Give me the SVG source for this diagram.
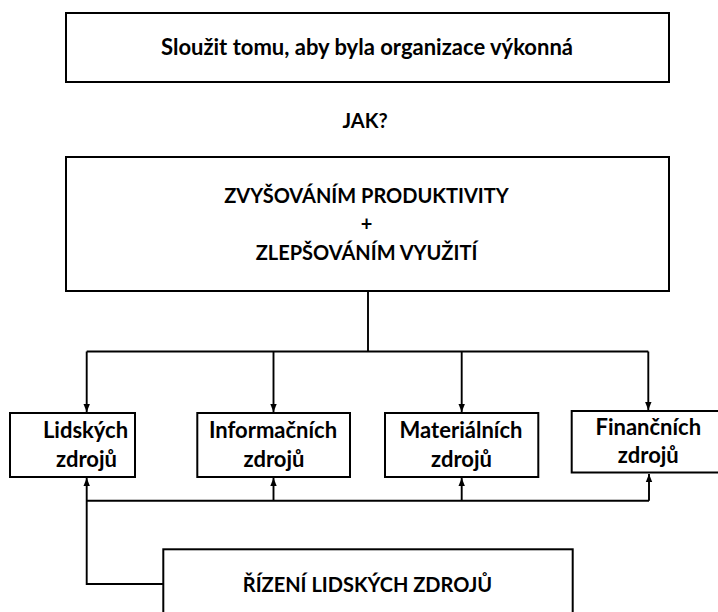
<svg xmlns="http://www.w3.org/2000/svg" width="718" height="612" viewBox="0 0 718 612">
<style>
.box{fill:#fff;stroke:#000;stroke-width:2}
.t{font-family:Lato,"Open Sans","Liberation Sans",sans-serif;font-weight:700;font-size:20px;fill:#000;text-anchor:middle}
.l{font-size:22px}
.c{fill:none;stroke:#000;stroke-width:1.9}
</style>
<defs>
<marker id="ah" viewBox="0 0 8 8" refX="8" refY="4" markerWidth="8" markerHeight="8" markerUnits="userSpaceOnUse" orient="auto">
<path d="M0,0.8 L8,4 L0,7.2 Z" fill="#000"/>
</marker>
</defs>
<rect width="718" height="612" fill="#fff"/>
<g id="top">
<rect class="box" x="66" y="13" width="603" height="69"/>
<text class="t l" x="367" y="55">Sloužit tomu, aby byla organizace výkonná</text>
</g>
<g id="jak">
<text class="t" x="365" y="128">JAK?</text>
</g>
<g id="main">
<rect class="box" x="66" y="157" width="603" height="134"/>
<text class="t" x="366.5" y="203">ZVYŠOVÁNÍM PRODUKTIVITY</text>
<text class="t" x="366.5" y="231">+</text>
<text class="t" x="366.5" y="260">ZLEPŠOVÁNÍM VYUŽITÍ</text>
</g>
<g id="connectors">
<path class="c" d="M368 291 V351.5"/>
<path class="c" d="M86.7 351.5 H648.3"/>
<path class="c" d="M86.7 351.5 V412" marker-end="url(#ah)"/>
<path class="c" d="M273.5 351.5 V412" marker-end="url(#ah)"/>
<path class="c" d="M461.7 351.5 V412" marker-end="url(#ah)"/>
<path class="c" d="M648.3 351.5 V410" marker-end="url(#ah)"/>
<path class="c" d="M163.3 584 H86.7 V478" marker-end="url(#ah)"/>
<path class="c" d="M86.7 500.7 H649"/>
<path class="c" d="M273.5 500.7 V478" marker-end="url(#ah)"/>
<path class="c" d="M461.7 500.7 V478" marker-end="url(#ah)"/>
<path class="c" d="M649 500.7 V474" marker-end="url(#ah)"/>
</g>
<g id="lidskych">
<rect class="box" x="10" y="413" width="125" height="64"/>
<text class="t l" x="85.5" y="438">Lidských</text>
<text class="t l" x="86.5" y="467">zdrojů</text>
</g>
<g id="informacnich">
<rect class="box" x="197.3" y="413" width="152.7" height="64"/>
<text class="t l" x="273" y="438">Informačních</text>
<text class="t l" x="274" y="467">zdrojů</text>
</g>
<g id="materialnich">
<rect class="box" x="385" y="413" width="153.3" height="64"/>
<text class="t l" x="461" y="438">Materiálních</text>
<text class="t l" x="461.5" y="467">zdrojů</text>
</g>
<g id="financnich">
<rect class="box" x="571.7" y="411" width="156" height="61.5"/>
<text class="t l" x="648.3" y="435">Finančních</text>
<text class="t l" x="648.3" y="463">zdrojů</text>
</g>
<g id="rizeni">
<rect class="box" x="163.3" y="549.3" width="409.4" height="100"/>
<text class="t" x="367.5" y="592">ŘÍZENÍ LIDSKÝCH ZDROJŮ</text>
</g>
</svg>
